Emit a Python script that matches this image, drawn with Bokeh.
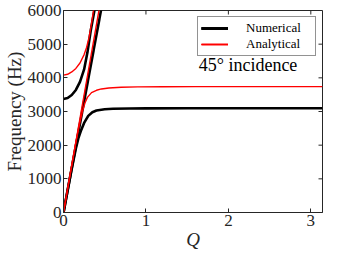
import numpy as np
from bokeh.plotting import figure
from bokeh.models import Label, Range1d, FixedTicker
from bokeh.embed import file_html
from bokeh.resources import INLINE

# ---- data ----
q_num_lin = [0.0, 0.5]
f_num_lin = [0.0, 6600.0]
q_num_ac = [0, 0.05, 0.10, 0.15, 0.18, 0.21, 0.25, 0.30, 0.35, 0.40, 0.50, 0.60,
            0.80, 1.0, 1.5, 2.0, 2.5, 3.1416]
f_num_ac = [0, 650, 1300, 1900, 2200, 2420, 2660, 2870, 2980, 3030, 3065, 3080,
            3090, 3093, 3095, 3095, 3095, 3095]
q_num_op = [0, 0.05, 0.10, 0.15, 0.20, 0.25, 0.29, 0.33, 0.375, 0.40]
f_num_op = [3370, 3400, 3490, 3640, 3880, 4250, 4750, 5400, 6000, 6350]

q_ana_lin = [0.0, 0.46]
f_ana_lin = [0.0, 6420.0]
q_ana_ac = [0, 0.05, 0.10, 0.15, 0.18, 0.20, 0.23, 0.26, 0.29, 0.34, 0.40, 0.46,
            0.55, 0.70, 0.9, 1.2, 1.6, 2.0, 2.5, 3.1416]
f_ana_ac = [0, 700, 1400, 2080, 2450, 2680, 3000, 3250, 3420, 3560, 3630, 3670,
            3700, 3720, 3730, 3735, 3738, 3740, 3740, 3740]
q_ana_op = [0, 0.05, 0.10, 0.15, 0.20, 0.25, 0.28, 0.31, 0.34, 0.37, 0.40]
f_ana_op = [4080, 4105, 4175, 4280, 4440, 4690, 4900, 5200, 5620, 6100, 6600]

x_ticks = [0, 1, 2, 3]
y_ticks = [0, 1000, 2000, 3000, 4000, 5000, 6000]
x_max = 3.1416
y_max = 6000

FONT = "Liberation Serif"
AX = "#262626"

p = figure(width=325, height=252, output_backend="svg", toolbar_location=None,
           x_range=Range1d(0, x_max), y_range=Range1d(0, y_max))
p.min_border_top = 10
p.min_border_right = 3
p.min_border_left = 0
p.min_border_bottom = 0
p.xgrid.visible = False
p.ygrid.visible = False
p.outline_line_color = AX
p.outline_line_alpha = 1

for q, f in [(q_num_lin, f_num_lin), (q_num_ac, f_num_ac), (q_num_op, f_num_op)]:
    p.line(q, f, line_color="black", line_width=2.6, legend_label="Numerical")
for q, f in [(q_ana_lin, f_ana_lin), (q_ana_ac, f_ana_ac), (q_ana_op, f_ana_op)]:
    p.line(q, f, line_color="#ff0000", line_width=1.4, legend_label="Analytical")

# inward ticks on the top and right edges of the box
p.ray(x=x_ticks, y=y_max, length=4, length_units="screen", angle=-np.pi / 2,
      line_color=AX, line_width=1)
p.ray(x=x_max, y=y_ticks, length=4, length_units="screen", angle=np.pi,
      line_color=AX, line_width=1)

p.xaxis.ticker = FixedTicker(ticks=x_ticks)
p.yaxis.ticker = FixedTicker(ticks=y_ticks)

for ax in p.axis:
    ax.major_tick_in = 4
    ax.major_tick_out = 0
    ax.minor_tick_in = 0
    ax.minor_tick_out = 0
    ax.axis_line_color = AX
    ax.major_tick_line_color = AX
    ax.major_label_text_font = FONT
    ax.major_label_text_font_size = "17px"
    ax.major_label_text_color = AX
    ax.major_label_standoff = 2

p.xaxis.axis_label = "Q"
p.xaxis.axis_label_text_font = FONT
p.xaxis.axis_label_text_font_size = "19px"
p.xaxis.axis_label_text_font_style = "italic"
p.xaxis.axis_label_text_color = AX
p.xaxis.axis_label_standoff = 0

p.yaxis.axis_label = "Frequency (Hz)"
p.yaxis.axis_label_text_font = FONT
p.yaxis.axis_label_text_font_size = "19px"
p.yaxis.axis_label_text_font_style = "normal"
p.yaxis.axis_label_text_color = AX
p.yaxis.axis_label_standoff = 0

lg = p.legend[0]
lg.location = "top_right"
lg.margin = 6
lg.border_line_color = AX
lg.border_line_width = 1
lg.label_text_font = FONT
lg.label_text_font_size = "13px"
lg.label_text_line_height = 1.0
lg.label_text_color = "black"
lg.glyph_width = 27
lg.glyph_height = 12
lg.label_height = 12
lg.padding = 3
lg.spacing = 0
lg.label_standoff = 18
lg.label_width = 66

p.add_layout(Label(x=1.64, y=4390, text="45° incidence", text_font=FONT,
                   text_font_size="18px", text_baseline="middle",
                   text_align="left", text_color="black"))

open("out.html", "w").write(file_html(p, INLINE))
